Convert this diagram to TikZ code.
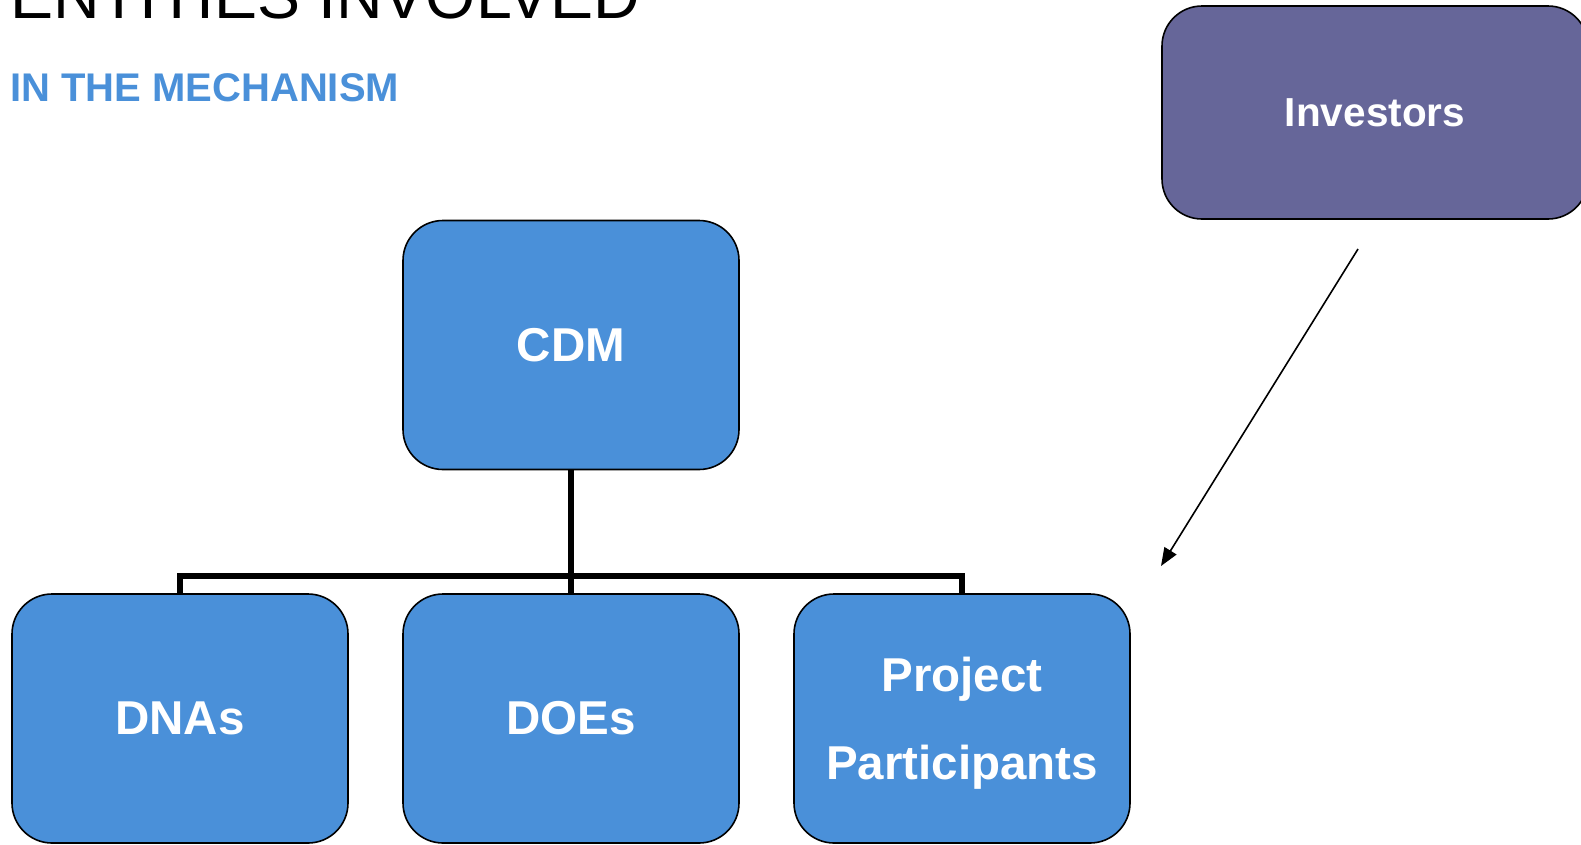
\documentclass[tikz,border=0pt]{standalone}
\usepackage{fontspec}
\setmainfont{Liberation Sans}
\usetikzlibrary{arrows.meta}
\definecolor{entityblue}{RGB}{74,144,217}
\definecolor{investorpurple}{RGB}{102,102,153}
\tikzset{
  entity/.style={draw=black, line width=1.6pt, rounded corners=40pt,
    fill=entityblue, text=white, inner sep=0pt, align=center,
    minimum width=336pt, minimum height=249pt,
    font=\fontsize{47.5}{88}\selectfont\bfseries},
  bus/.style={line width=5.5pt},
}
\begin{document}
\begin{tikzpicture}[x=1pt,y=-1pt]
      \useasboundingbox (0,0) rectangle (1581,844);
      \node[anchor=base west, inner sep=0pt, font=\fontsize{64.5}{64.5}\selectfont]
        (title) at (10,18) {ENTITIES INVOLVED};
      \node[anchor=base west, inner sep=0pt, text=entityblue, font=\fontsize{40}{40}\selectfont\bfseries]
        (subtitle) at (10,101) {IN THE MECHANISM};
      \draw
        (571,345) node[entity] (cdm){CDM}
        (180,718.5) node[entity] (dna){DNAs}
        (571,718.5) node[entity] (doe){DOEs}
        (962,718.5) node[entity, text depth=0pt] (pp){Project\\Participants}
        (1375,112.5) node[entity, fill=investorpurple, minimum width=426pt, minimum height=213pt,
          font=\fontsize{40.5}{40.5}\selectfont\bfseries] (inv){Investors};
      \begin{scope}[bus]
        \draw (cdm) to (doe);
        \draw (dna.north) -- ++(0,-17) -| (pp.north);
      \end{scope}
      \coordinate (arrowtop) at (1358,249);
      \coordinate (arrowtip) at (1161,566);
      \draw[line width=1.6pt, -{Triangle[length=18pt,width=14pt]}] (arrowtop) to (arrowtip);
    \end{tikzpicture}
\end{document}
